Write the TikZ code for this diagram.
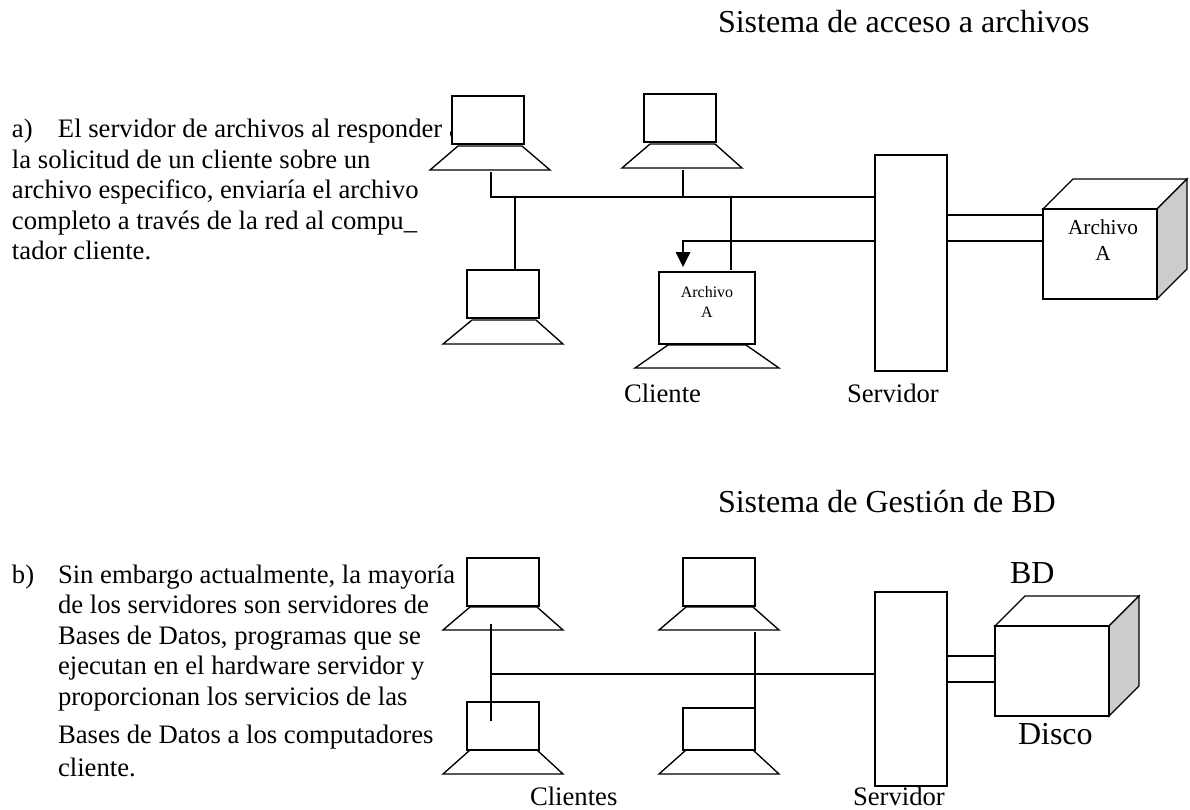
\documentclass[tikz,border=0pt]{standalone}
\usepackage{fontspec}
\setmainfont{Liberation Serif}
\tikzset{
  every node/.style={inner sep=0pt,outer sep=0pt},
  shape line/.style={line width=1.35pt,draw=black,fill=white,line join=miter},
  screen/.style={shape line,rectangle,anchor=north west,minimum width=72pt,minimum height=48pt},
  wire/.style={line width=1.2pt,draw=black},
  body/.style={anchor=base west,font=\fontsize{26.67}{30}\selectfont},
  title/.style={anchor=base west,font=\fontsize{32}{36}\selectfont},
  caption/.style={anchor=base west,font=\fontsize{26.67}{30}\selectfont},
  smalltxt/.style={anchor=base,font=\fontsize{16}{20}\selectfont},
  cubetxt/.style={anchor=base,font=\fontsize{21.3}{26}\selectfont},
}
\newcommand{\lapbase}[6]{\draw[shape line] (#2,#1) -- (#3,#1) -- (#6,#4) -- (#5,#4) -- cycle;}
\newcommand{\cube}[4]{%
  \draw[shape line] (#1,#2) -- (#1+30,#2-30) -- (#3+30,#2-30) -- (#3,#2) -- cycle;
  \draw[shape line,fill=black!20] (#3,#2) -- (#3+30,#2-30) -- (#3+30,#4-30) -- (#3,#4) -- cycle;
}
\begin{document}
\begin{tikzpicture}[x=1pt,y=-1pt]
\useasboundingbox (0,0) rectangle (1190,809);
% titles
\node[title] (t1) at (718,32) {Sistema de acceso a archivos};
\node[title] (t2) at (718,512) {Sistema de Gestión de BD};
% text a
\node[body] (a1) at (12,137) {\makebox[46pt][l]{a)}El servidor de archivos al responder a};
\node[body] (a2) at (12,168) {la solicitud de un cliente sobre un};
\node[body] (a3) at (12,198) {archivo especifico, enviaría el archivo};
\node[body] (a4) at (12,229) {completo a través de la red al compu\_};
\node[body] (a5) at (12,259) {tador cliente.};
% text b
\node[body] (b0) at (12,583) {b)};
\node[body] (b1) at (58,583) {Sin embargo actualmente, la mayoría};
\node[body] (b2) at (58,613) {de los servidores son servidores de};
\node[body] (b3) at (58,644) {Bases de Datos, programas que se};
\node[body] (b4) at (58,674) {ejecutan en el hardware servidor y};
\node[body] (b5) at (58,705) {proporcionan los servicios de las};
\node[body] (b6) at (58,743) {Bases de Datos a los computadores};
\node[body] (b7) at (58,776) {cliente.};
% top laptops
\lapbase{146}{458}{522}{170}{430}{550}
\node[screen] (s1) at (452,96) {};
\lapbase{144}{650}{715}{168}{622}{742}
\node[screen] (s2) at (644,94) {};
\lapbase{320}{472}{536}{344}{443}{563}
\node[screen] (s3) at (467,270) {};
\lapbase{345}{668}{746}{368}{635}{779}
\node[screen,minimum width=96pt,minimum height=72pt] (s4) at (659,272) {};
\node[smalltxt] (s4a) at (707,297) {Archivo};
\node[smalltxt] (s4b) at (707,317) {A};
% server and file cube
\node[screen,minimum height=216pt] (srv1) at (875,155) {};
\cube{1043}{209}{1157}{299}
\node[screen,minimum width=114pt,minimum height=90pt] (c1) at (1043,209) {};
\node[cubetxt] (c1a) at (1103,234) {Archivo};
\node[cubetxt] (c1b) at (1103,260) {A};
% top connectors
\coordinate (d1) at (491,172);
\coordinate (d2) at (683,170);
\coordinate (busL) at (491,197);
\coordinate (j3) at (515,197);
\coordinate (j4) at (731,197);
\coordinate (arrS) at (875,241);
\coordinate (arrC) at (683,241);
\coordinate (arrB) at (683,252);
\coordinate (arrT) at (683,267);
\draw[wire] (d1) -- (busL) -- (srv1.west |- busL);
\draw[wire] (d2) -- (d2 |- busL);
\draw[wire] (j3) -- (j3 |- s3.north);
\draw[wire] (j4) -- (j4 |- s3.north);
\draw[wire] (arrS) -- (arrC) -- (arrB);
\fill (675.5,252) -- (690.5,252) -- (arrT) -- cycle;
\draw[wire] (srv1.east |- 0,215) -- (c1.west |- 0,215);
\draw[wire] (srv1.east |- 0,241) -- (c1.west |- 0,241);
\node[caption] (cl1) at (624,402) {Cliente};
\node[caption] (sv1) at (847,402) {Servidor};
% bottom laptops
\lapbase{607}{470}{537}{630}{443}{563}
\node[screen] (s5) at (467,558) {};
\lapbase{607}{686}{753}{630}{659}{779}
\node[screen] (s6) at (683,558) {};
\lapbase{750}{470}{537}{774}{443}{563}
\node[screen] (s7) at (467,702) {};
\lapbase{750}{686}{753}{774}{659}{779}
\node[screen,minimum height=42pt] (s8) at (683,708) {};
% bottom server and disk
\node[screen,minimum height=194pt] (srv2) at (875,592) {};
\cube{995}{626}{1109}{716}
\node[screen,minimum width=114pt,minimum height=90pt] (c2) at (995,626) {};
% bottom connectors
\coordinate (v1t) at (491,624);
\coordinate (v1b) at (491,721);
\coordinate (bus2) at (491,674);
\coordinate (v2t) at (755,632);
\draw[wire] (v1t) -- (v1b);
\draw[wire] (bus2) -- (srv2.west |- bus2);
\draw[wire] (v2t) -- (s8.south east);
\draw[wire] (srv2.east |- 0,656) -- (c2.west |- 0,656);
\draw[wire] (srv2.east |- 0,682) -- (c2.west |- 0,682);
\node[title] (bd) at (1010,583) {BD};
\node[title] (dk) at (1018,744) {Disco};
\node[caption] (cl2) at (530,805) {Clientes};
\node[caption] (sv2) at (853,805) {Servidor};
\end{tikzpicture}
\end{document}
